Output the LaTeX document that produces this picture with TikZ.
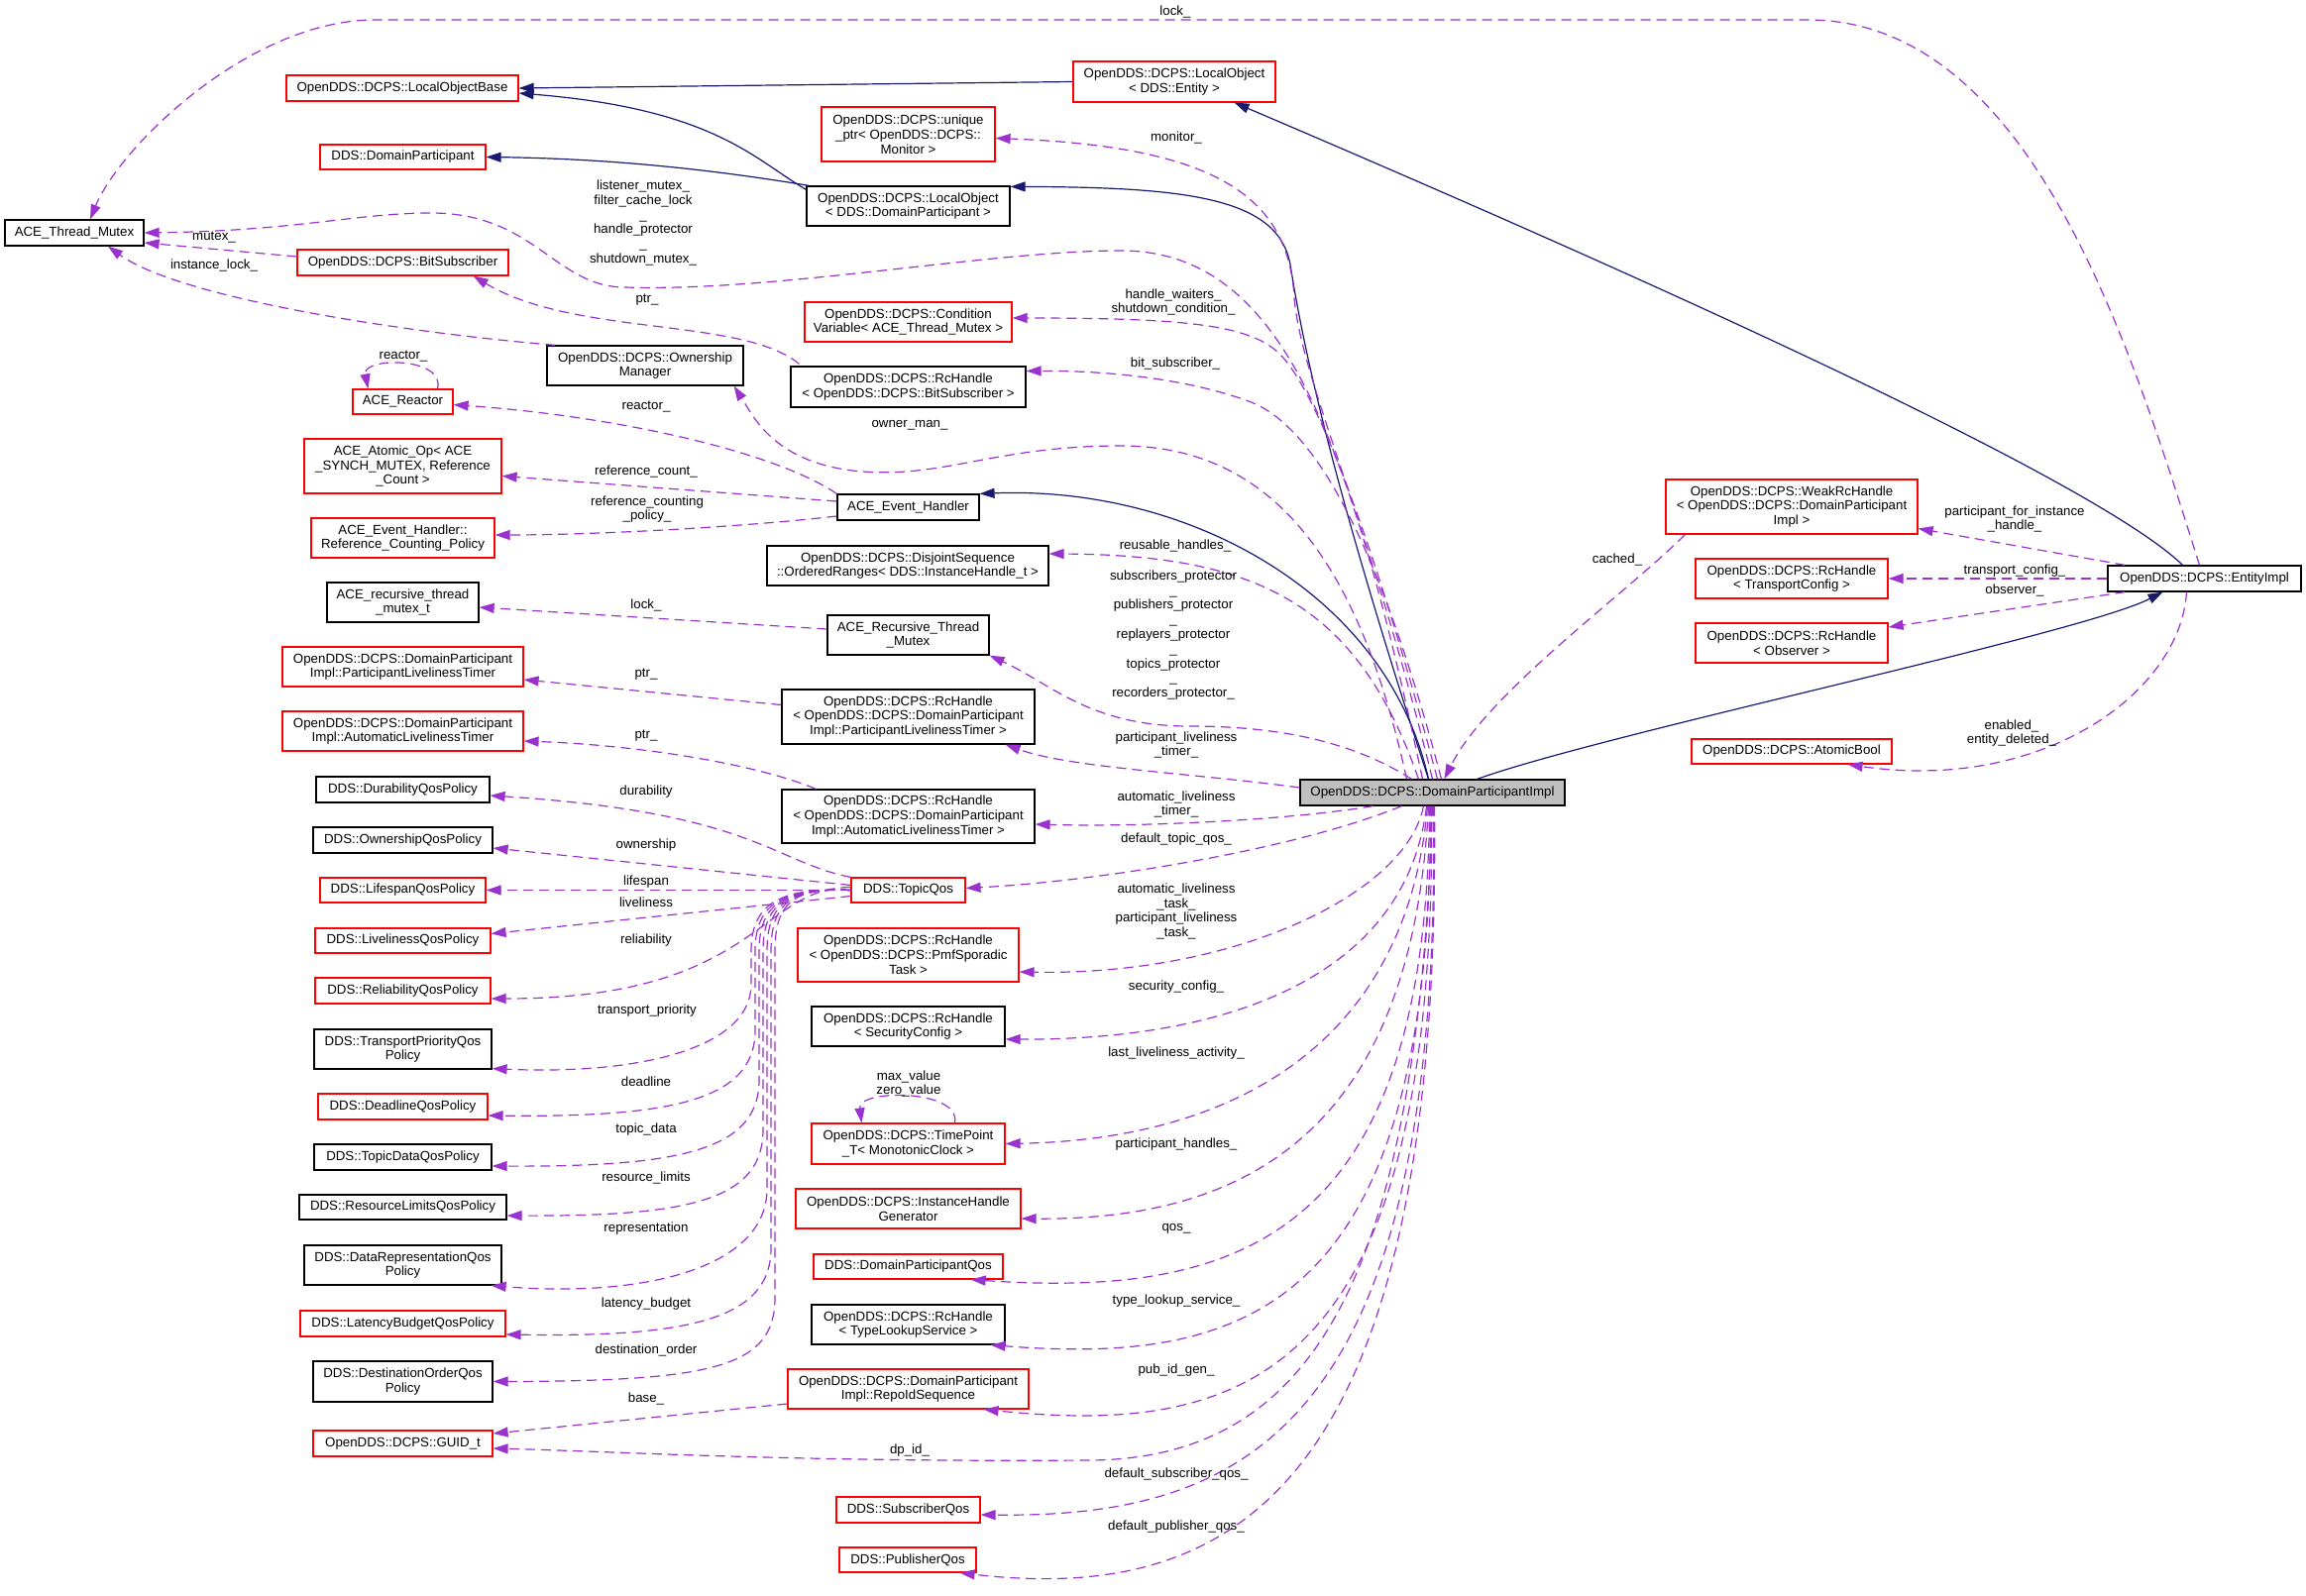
\documentclass[tikz,border=0pt]{standalone}
\usepackage{fontspec}
\setmainfont{Liberation Sans}
\usetikzlibrary{arrows.meta,calc}

\definecolor{useedge}{HTML}{9A32CD}
\definecolor{inhedge}{HTML}{191970}
\definecolor{curfill}{HTML}{BFBFBF}
\newcommand{\dxfont}{\fontsize{13.3}{14.8}\selectfont}

\tikzset{
  cls/.style={draw,fill=white,line width=1.2pt,font=\dxfont,align=center,inner sep=1pt},
  nodoc/.style={cls,draw=red},
  sz/.style 2 args={minimum width=#1pt,minimum height=#2pt},
  inh/.style={->,draw=inhedge,line width=1.2pt},
  use/.style={->,draw=useedge,line width=1.2pt,dash pattern=on 10pt off 6pt},
  lbl/.style={font=\dxfont,align=center,inner sep=0pt,text=black}
}

\begin{document}
\begin{tikzpicture}
            [x=1pt,y=-1pt,>={Triangle[length=15pt,width=10pt]}]
            \useasboundingbox (0,0) rectangle (2327,1611);

            % left column
            \node (atm) [cls,sz={140}{26}] at (75,235) {ACE\_Thread\_Mutex};
            \node (lob) [nodoc,sz={234}{26}] at (406,89) {OpenDDS::DCPS::LocalObjectBase};
            \node (ddp) [nodoc,sz={167}{25}] at (406.5,158.5) {DDS::DomainParticipant};
            \node (bsub) [nodoc,sz={213}{26}] at (406.5,265) {OpenDDS::DCPS::BitSubscriber};
            \node (reac) [nodoc,sz={101}{25}] at (406.5,405.5) {ACE\_Reactor};
            \node (aop) [nodoc,sz={199}{55}] at (406.5,470.5) {ACE\_Atomic\_Op< ACE\\\_SYNCH\_MUTEX, Reference\\\_Count >};
            \node (rcp) [nodoc,sz={185}{40}] at (406.5,543) {ACE\_Event\_Handler::\\Reference\_Counting\_Policy};
            \node (artm) [cls,sz={153}{40}] at (406.5,608) {ACE\_recursive\_thread\\\_mutex\_t};
            \node (plt) [nodoc,sz={243}{40}] at (406.5,673) {OpenDDS::DCPS::DomainParticipant\\Impl::ParticipantLivelinessTimer};
            \node (alt) [nodoc,sz={243}{40}] at (406.5,738) {OpenDDS::DCPS::DomainParticipant\\Impl::AutomaticLivelinessTimer};
            \node (qdur) [cls,sz={175}{26}] at (406.5,797) {DDS::DurabilityQosPolicy};
            \node (qown) [cls,sz={181}{26}] at (406.5,848) {DDS::OwnershipQosPolicy};
            \node (qlif) [nodoc,sz={167}{25}] at (406.5,898.5) {DDS::LifespanQosPolicy};
            \node (qliv) [nodoc,sz={177}{25}] at (406.5,949.5) {DDS::LivelinessQosPolicy};
            \node (qrel) [nodoc,sz={177}{26}] at (406.5,1000) {DDS::ReliabilityQosPolicy};
            \node (qtp) [cls,sz={179}{40}] at (406.5,1059) {DDS::TransportPriorityQos\\Policy};
            \node (qdl) [nodoc,sz={171}{26}] at (406.5,1117) {DDS::DeadlineQosPolicy};
            \node (qtd) [cls,sz={179}{26}] at (406.5,1168) {DDS::TopicDataQosPolicy};
            \node (qrl) [cls,sz={209}{25}] at (406.5,1218.5) {DDS::ResourceLimitsQosPolicy};
            \node (qdr) [cls,sz={199}{40}] at (406.5,1277) {DDS::DataRepresentationQos\\Policy};
            \node (qlb) [nodoc,sz={207}{26}] at (406.5,1336) {DDS::LatencyBudgetQosPolicy};
            \node (qdo) [cls,sz={181}{41}] at (406.5,1394.5) {DDS::DestinationOrderQos\\Policy};
            \node (guid) [nodoc,sz={181}{26}] at (406.5,1457) {OpenDDS::DCPS::GUID\_t};

            % middle column
            \node (uptr) [nodoc,sz={175}{55}] at (916.5,135.5) {OpenDDS::DCPS::unique\\\_ptr< OpenDDS::DCPS::\\Monitor >};
            \node (lodp) [cls,sz={205}{40}] at (916.5,208) {OpenDDS::DCPS::LocalObject\\< DDS::DomainParticipant >};
            \node (cvar) [nodoc,sz={209}{40}] at (916.5,325) {OpenDDS::DCPS::Condition\\Variable< ACE\_Thread\_Mutex >};
            \node (own) [cls,sz={198}{40}] at (651,369) {OpenDDS::DCPS::Ownership\\Manager};
            \node (rcbs) [cls,sz={237}{41}] at (916.5,390.5) {OpenDDS::DCPS::RcHandle\\< OpenDDS::DCPS::BitSubscriber >};
            \node (aeh) [cls,sz={143}{26}] at (916.5,512) {ACE\_Event\_Handler};
            \node (dseq) [cls,sz={284}{40}] at (916,571) {OpenDDS::DCPS::DisjointSequence\\::OrderedRanges< DDS::InstanceHandle\_t >};
            \node (artx) [cls,sz={163}{40}] at (916.5,641) {ACE\_Recursive\_Thread\\\_Mutex};
            \node (rcplt) [cls,sz={255}{55}] at (916.5,723.5) {OpenDDS::DCPS::RcHandle\\< OpenDDS::DCPS::DomainParticipant\\Impl::ParticipantLivelinessTimer >};
            \node (rcalt) [cls,sz={255}{54}] at (916.5,824) {OpenDDS::DCPS::RcHandle\\< OpenDDS::DCPS::DomainParticipant\\Impl::AutomaticLivelinessTimer >};
            \node (tqos) [nodoc,sz={115}{25}] at (916.5,898.5) {DDS::TopicQos};
            \node (rcpmf) [nodoc,sz={223}{54}] at (916.5,964) {OpenDDS::DCPS::RcHandle\\< OpenDDS::DCPS::PmfSporadic\\Task >};
            \node (rcsec) [cls,sz={195}{40}] at (916.5,1036) {OpenDDS::DCPS::RcHandle\\< SecurityConfig >};
            \node (tpt) [nodoc,sz={195}{41}] at (916.5,1154.5) {OpenDDS::DCPS::TimePoint\\\_T< MonotonicClock >};
            \node (ihg) [nodoc,sz={227}{40}] at (916.5,1220) {OpenDDS::DCPS::InstanceHandle\\Generator};
            \node (dpqos) [nodoc,sz={191}{25}] at (916.5,1278.5) {DDS::DomainParticipantQos};
            \node (rctls) [cls,sz={195}{40}] at (916.5,1337) {OpenDDS::DCPS::RcHandle\\< TypeLookupService >};
            \node (ris) [nodoc,sz={243}{40}] at (916.5,1402) {OpenDDS::DCPS::DomainParticipant\\Impl::RepoIdSequence};
            \node (sqos) [nodoc,sz={145}{26}] at (916.5,1524) {DDS::SubscriberQos};
            \node (pqos) [nodoc,sz={138}{25}] at (916,1574.5) {DDS::PublisherQos};

            % right part
            \node (loe) [nodoc,sz={204}{41}] at (1185,82.5) {OpenDDS::DCPS::LocalObject\\< DDS::Entity >};
            \node (dpi) [cls,fill=curfill,sz={267}{26}] at (1445.5,800) {OpenDDS::DCPS::DomainParticipantImpl};
            \node (wrh) [nodoc,sz={254}{55}] at (1808,511.5) {OpenDDS::DCPS::WeakRcHandle\\< OpenDDS::DCPS::DomainParticipant\\Impl >};
            \node (rctc) [nodoc,sz={194}{40}] at (1808,584) {OpenDDS::DCPS::RcHandle\\< TransportConfig >};
            \node (rcobs) [nodoc,sz={194}{40}] at (1808,649) {OpenDDS::DCPS::RcHandle\\< Observer >};
            \node (abool) [nodoc,sz={202}{25}] at (1808,758.5) {OpenDDS::DCPS::AtomicBool};
            \node (eimpl) [cls,sz={195}{26}] at (2224.5,584) {OpenDDS::DCPS::EntityImpl};

            % inheritance
            \draw[inh] (loe.west) -- (lob.east);
            \draw[inh] ($(lodp.north west)+(0,4)$) .. controls (760,160) and (720,110) .. ($(lob.east)+(0,5)$);
            \draw[inh] ($(lodp.north west)+(3,0)$) .. controls (700,168) and (600,160) .. (ddp.east);
            \draw[inh] ($(dpi.north)+(-4,0)$) .. controls (1335,460) and (1312,330) .. (1302,267)
              .. controls (1290,200) and (1200,189) .. ($(lodp.north east)+(0,1)$);
            \draw[inh] ($(dpi.north)+(-4,0)$) .. controls (1400,600) and (1200,490) .. (aeh.north east);
            \draw[inh] ($(dpi.north)+(45,0)$) .. controls (1620,740) and (2100,640) .. ($(eimpl.south)+(-42,0)$);
            \draw[inh] ($(eimpl.north)+(-22,0)$) .. controls (2130,500) and (1800,340) .. ($(loe.south east)+(-42,0)$);

            % members, upper half
            \draw[use] ($(eimpl.north)+(-5,0)$) .. controls (2150,350) and (2050,20) .. (1824,20) -- (379,20)
              .. controls (250,20) and (120,150) .. ($(atm.north)+(16,0)$);
            \draw[use] ($(dpi.north)+(-10,0)$) .. controls (1360,430) and (1290,253) .. (1131,253)
              .. controls (1000,253) and (780,295) .. (631,290)
              .. controls (560,290) and (540,215) .. (435,215)
              .. controls (360,215) and (300,233) .. (atm.east);
            \draw[use] ($(bsub.west)+(0,-6)$) -- ($(atm.east)+(0,10)$);
            \draw[use] ($(own.north west)+(9,0)$) .. controls (400,335) and (180,300) .. ($(atm.south)+(34,0)$);
            \draw[use] (dpi.north) .. controls (1380,520) and (1312,380) .. (1306,300)
              .. controls (1300,200) and (1230,148) .. ($(uptr.east)+(0,4)$);
            \draw[use] ($(rcbs.north west)+(9,-2)$) .. controls (750,320) and (580,340) .. ($(bsub.south east)+(-36,0)$);
            \draw[use] ($(dpi.north)+(5,0)$) .. controls (1385,540) and (1330,400) .. (1294,360)
              .. controls (1265,328) and (1200,321) .. ($(cvar.east)+(0,-4)$);
            \draw[use] ($(dpi.north)+(9,0)$) .. controls (1395,560) and (1330,430) .. (1260,405)
              .. controls (1200,383) and (1120,374) .. ($(rcbs.east)+(0,-16)$);
            \draw[use] ($(reac.north)+(35,0)$) .. controls (450,360) and (365,360) .. ($(reac.north)+(-35,0)$);
            \draw[use] (aeh.north west) .. controls (780,455) and (620,420) .. ($(reac.east)+(0,3)$);
            \draw[use] ($(dpi.north)+(-26,0)$) .. controls (1370,560) and (1280,450) .. (1131,450)
              .. controls (1000,450) and (950,485) .. (860,475)
              .. controls (780,465) and (760,420) .. ($(own.south east)+(-10,0)$);
            \draw[use] ($(aeh.west)+(0,-6)$) -- ($(aop.east)+(0,10)$);
            \draw[use] ($(aeh.west)+(0,9)$) .. controls (750,532) and (600,540) .. ($(rcp.east)+(0,-3)$);
            \draw[use] ($(dpi.north)+(-14,0)$) .. controls (1370,610) and (1270,560) .. ($(dseq.east)+(0,-12)$);
            \draw[use] ($(artx.west)+(0,-6)$) -- ($(artm.east)+(0,5)$);
            \draw[use] ($(dpi.north)+(-21,0)$) .. controls (1370,752) and (1300,733) .. (1200,733)
              .. controls (1100,733) and (1060,690) .. (artx.south east);
            \draw[use] ($(rcplt.west)+(0,-12)$) -- ($(plt.east)+(0,13)$);
            \draw[use] ($(dpi.west)+(0,-5)$) .. controls (1200,780) and (1080,775) .. ($(rcplt.south east)+(-30,0)$);
            \draw[use] ($(rcalt.north west)+(35,0)$) .. controls (760,770) and (640,752) .. ($(alt.east)+(0,10)$);
            \draw[use] ($(dpi.south)+(-60,0)$) .. controls (1300,828) and (1150,835) .. ($(rcalt.east)+(0,8)$);

            % qos policies of the topic qos
            \draw[use] (tqos.north west) .. controls (780,870) and (760,820) .. ($(qdur.east)+(0,6)$);
            \draw[use] ($(tqos.west)+(0,-5)$) -- ($(qown.east)+(0,8)$);
            \draw[use] (tqos.west) -- (qlif.east);
            \draw[use] ($(tqos.west)+(0,6)$) -- ($(qliv.east)+(0,-7)$);
            \draw[use] ($(tqos.west)+(0,-3)$) .. controls (765,896) and (765,1008) .. ($(qrel.east)+(0,8)$);
            \draw[use] (tqos.west) .. controls (790,896) and (758,910) .. (758,960) -- (758,995)
              .. controls (756,1060) and (640,1085) .. ($(qtp.south east)+(0,-1)$);
            \draw[use] (tqos.west) .. controls (792,896) and (762,910) .. (762,960) -- (762,1040)
              .. controls (762,1110) and (680,1128) .. ($(qdl.east)+(0,9)$);
            \draw[use] (tqos.west) .. controls (794,896) and (766,910) .. (766,960) -- (766,1090)
              .. controls (766,1160) and (690,1178) .. ($(qtd.east)+(0,9)$);
            \draw[use] (tqos.west) .. controls (796,896) and (770,910) .. (770,960) -- (770,1140)
              .. controls (770,1210) and (700,1228) .. ($(qrl.east)+(0,8.5)$);
            \draw[use] (tqos.west) .. controls (798,896) and (774,910) .. (774,960) -- (774,1200)
              .. controls (774,1280) and (650,1310) .. ($(qdr.south east)+(-11,0)$);
            \draw[use] (tqos.west) .. controls (800,896) and (778,910) .. (778,960) -- (778,1260)
              .. controls (778,1330) and (700,1350) .. ($(qlb.east)+(0,11)$);
            \draw[use] (tqos.west) .. controls (802,896) and (782,910) .. (782,960) -- (782,1310)
              .. controls (782,1380) and (720,1394) .. (qdo.east);

            % members, lower half
            \draw[use] ($(dpi.south)+(-31,0)$) .. controls (1300,860) and (1100,890) .. ($(tqos.east)+(0,-2)$);
            \draw[use] ($(dpi.south)+(-9,0)$) .. controls (1420,900) and (1250,985) .. ($(rcpmf.east)+(0,17)$);
            \draw[use] ($(dpi.south)+(-6,0)$) .. controls (1420,980) and (1250,1050) .. ($(rcsec.east)+(0,13)$);
            \draw[use] ($(dpi.south)+(-5,0)$) .. controls (1420,1050) and (1250,1150) .. (tpt.east);
            \draw[use] ($(tpt.north)+(47,0)$) .. controls (970,1099) and (865,1099) .. ($(tpt.north)+(-47,0)$);
            \draw[use] ($(dpi.south)+(-4,0)$) .. controls (1425,1140) and (1260,1232) .. ($(ihg.east)+(0,10)$);
            \draw[use] ($(dpi.south)+(-3,0)$) .. controls (1440,1250) and (1250,1310) .. ($(dpqos.south east)+(-33,0)$);
            \draw[use] ($(dpi.south)+(-2,0)$) .. controls (1445,1320) and (1260,1378) .. ($(rctls.south east)+(-15,0)$);
            \draw[use] ($(dpi.south)+(-1,0)$) .. controls (1450,1390) and (1260,1450) .. ($(ris.south east)+(-46,0)$);
            \draw[use] ($(ris.west)+(0,15)$) -- ($(guid.east)+(0,-10)$);
            \draw[use] (dpi.south) .. controls (1430,1300) and (1320,1472) .. (1100,1474)
              .. controls (800,1476) and (620,1465) .. ($(guid.east)+(0,5)$);
            \draw[use] ($(dpi.south)+(1,0)$) .. controls (1455,1440) and (1260,1532) .. ($(sqos.east)+(0,5)$);
            \draw[use] ($(dpi.south)+(2,0)$) .. controls (1455,1500) and (1250,1620) .. ($(pqos.south east)+(-17,0)$);

            % entity impl side
            \draw[use] ($(wrh.south west)+(20,0)$) .. controls (1640,600) and (1500,700) .. ($(dpi.north)+(12,0)$);
            \draw[use] ($(eimpl.north west)+(18,0)$) -- ($(wrh.east)+(0,22)$);
            \draw[use] (eimpl.west) -- (rctc.east);
            \draw[use] ($(eimpl.south west)+(18,0)$) -- ($(rcobs.east)+(0,-16)$);
            \draw[use] ($(eimpl.south)+(-18,0)$) .. controls (2200,700) and (2060,800) .. ($(abool.south east)+(-45,0)$);

            % edge labels
            \node (llock) [lbl] at (1186,12) {lock\_};
            \node (lmtx) [lbl] at (649,225) {listener\_mutex\_\\filter\_cache\_lock\\\_\\handle\_protector\\\_\\shutdown\_mutex\_};
            \node (lmutex) [lbl] at (216,240) {mutex\_};
            \node (linst) [lbl] at (216,268) {instance\_lock\_};
            \node (lptrbs) [lbl] at (653,303) {ptr\_};
            \node (lmon) [lbl] at (1187,139) {monitor\_};
            \node (lwait) [lbl] at (1184,305) {handle\_waiters\_\\shutdown\_condition\_};
            \node (lbits) [lbl] at (1186,367) {bit\_subscriber\_};
            \node (lreac) [lbl] at (407,360) {reactor\_};
            \node (lreact) [lbl] at (652,411) {reactor\_};
            \node (lowner) [lbl] at (918,429) {owner\_man\_};
            \node (lrefc) [lbl] at (652,476) {reference\_count\_};
            \node (lrefp) [lbl] at (653,514) {reference\_counting\\\_policy\_};
            \node (lreuse) [lbl] at (1186,551) {reusable\_handles\_};
            \node (lprot) [lbl] at (1184,641) {subscribers\_protector\\\_\\publishers\_protector\\\_\\replayers\_protector\\\_\\topics\_protector\\\_\\recorders\_protector\_};
            \node (llockr) [lbl] at (652,611) {lock\_};
            \node (lptrp) [lbl] at (652,681) {ptr\_};
            \node (lpltm) [lbl] at (1187,752) {participant\_liveliness\\\_timer\_};
            \node (lptra) [lbl] at (652,743) {ptr\_};
            \node (laltm) [lbl] at (1187,812) {automatic\_liveliness\\\_timer\_};
            \node (ldtq) [lbl] at (1187,847) {default\_topic\_qos\_};
            \node (ldur) [lbl] at (652,799) {durability};
            \node (lown) [lbl] at (652,853) {ownership};
            \node (llif) [lbl] at (652,890) {lifespan};
            \node (lliv) [lbl] at (652,911) {liveliness};
            \node (lrel) [lbl] at (652,949) {reliability};
            \node (ltask) [lbl] at (1187,920) {automatic\_liveliness\\\_task\_\\participant\_liveliness\\\_task\_};
            \node (lsec) [lbl] at (1187,996) {security\_config\_};
            \node (ltp) [lbl] at (653,1020) {transport\_priority};
            \node (llla) [lbl] at (1187,1063) {last\_liveliness\_activity\_};
            \node (lmax) [lbl] at (917,1094) {max\_value\\zero\_value};
            \node (ldl) [lbl] at (652,1092) {deadline};
            \node (ltd) [lbl] at (652,1140) {topic\_data};
            \node (lph) [lbl] at (1187,1155) {participant\_handles\_};
            \node (lrl) [lbl] at (652,1189) {resource\_limits};
            \node (lrep) [lbl] at (652,1240) {representation};
            \node (lqos) [lbl] at (1187,1240) {qos\_};
            \node (ltls) [lbl] at (1187,1313) {type\_lookup\_service\_};
            \node (llb) [lbl] at (652,1316) {latency\_budget};
            \node (ldo) [lbl] at (652,1363) {destination\_order};
            \node (lpub) [lbl] at (1187,1383) {pub\_id\_gen\_};
            \node (lbase) [lbl] at (652,1412) {base\_};
            \node (ldpid) [lbl] at (918,1464) {dp\_id\_};
            \node (ldsq) [lbl] at (1187,1488) {default\_subscriber\_qos\_};
            \node (ldpq) [lbl] at (1187,1541) {default\_publisher\_qos\_};
            \node (lcach) [lbl] at (1632,565) {cached\_};
            \node (lpfi) [lbl] at (2033,524) {participant\_for\_instance\\\_handle\_};
            \node (ltc) [lbl] at (2033,576) {transport\_config\_};
            \node (lobs) [lbl] at (2033,596) {observer\_};
            \node (lenab) [lbl] at (2030,740) {enabled\_\\entity\_deleted\_};
        \end{tikzpicture}
\end{document}
